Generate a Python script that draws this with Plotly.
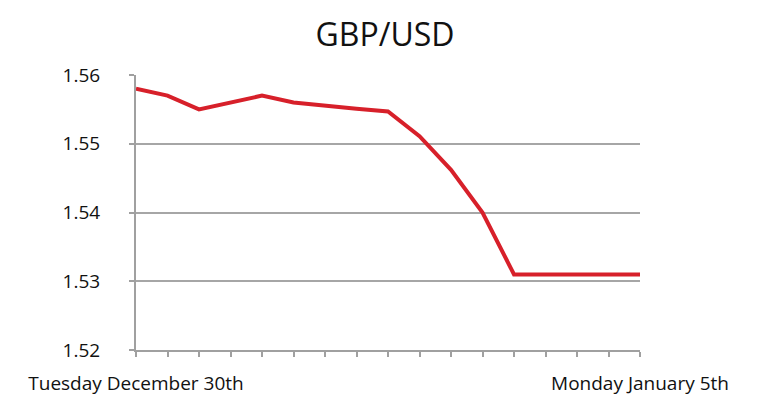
import plotly.graph_objects as go

x_idx = list(range(17))
rates = [1.558, 1.557, 1.555, 1.556, 1.557, 1.556, 1.5555, 1.5551, 1.5547,
         1.5511, 1.5462, 1.540, 1.531, 1.531, 1.531, 1.531, 1.531]
tick_text = ["Tuesday December 30th"] + [""] * 15 + ["Monday January 5th"]
y_ticks = [1.52, 1.53, 1.54, 1.55, 1.56]

fig = go.Figure()
fig.add_trace(go.Scatter(x=x_idx, y=rates, mode="lines",
                         line=dict(color="#d7202a", width=4)))

fig.update_layout(
    width=770, height=416,
    margin=dict(l=136, r=130, t=75, b=66),
    paper_bgcolor="white", plot_bgcolor="white",
    showlegend=False,
    title=dict(text="GBP/USD", x=0.5, xanchor="center", y=0.916, yanchor="middle",
               font=dict(family="Open Sans", size=32, color="#111111")),
    font=dict(family="Open Sans", size=19, color="#111111"),
)
fig.update_xaxes(range=[0, 16], tickvals=x_idx, ticktext=tick_text,
                 showgrid=False, zeroline=False,
                 showline=True, linecolor="#a0a0a0", linewidth=2,
                 ticks="outside", ticklen=5, tickcolor="#a0a0a0", tickwidth=1.5,
                 ticklabelstandoff=10)
fig.update_yaxes(range=[1.52, 1.56], tickvals=y_ticks,
                 ticktext=[f"{v:.2f}" for v in y_ticks],
                 showgrid=True, gridcolor="#a6a6a6", gridwidth=2,
                 zeroline=False,
                 showline=True, linecolor="#a0a0a0", linewidth=2,
                 ticks="outside", ticklen=5, tickcolor="#a0a0a0", tickwidth=1.5,
                 ticklabelstandoff=25)

fig.write_html("out.html")
